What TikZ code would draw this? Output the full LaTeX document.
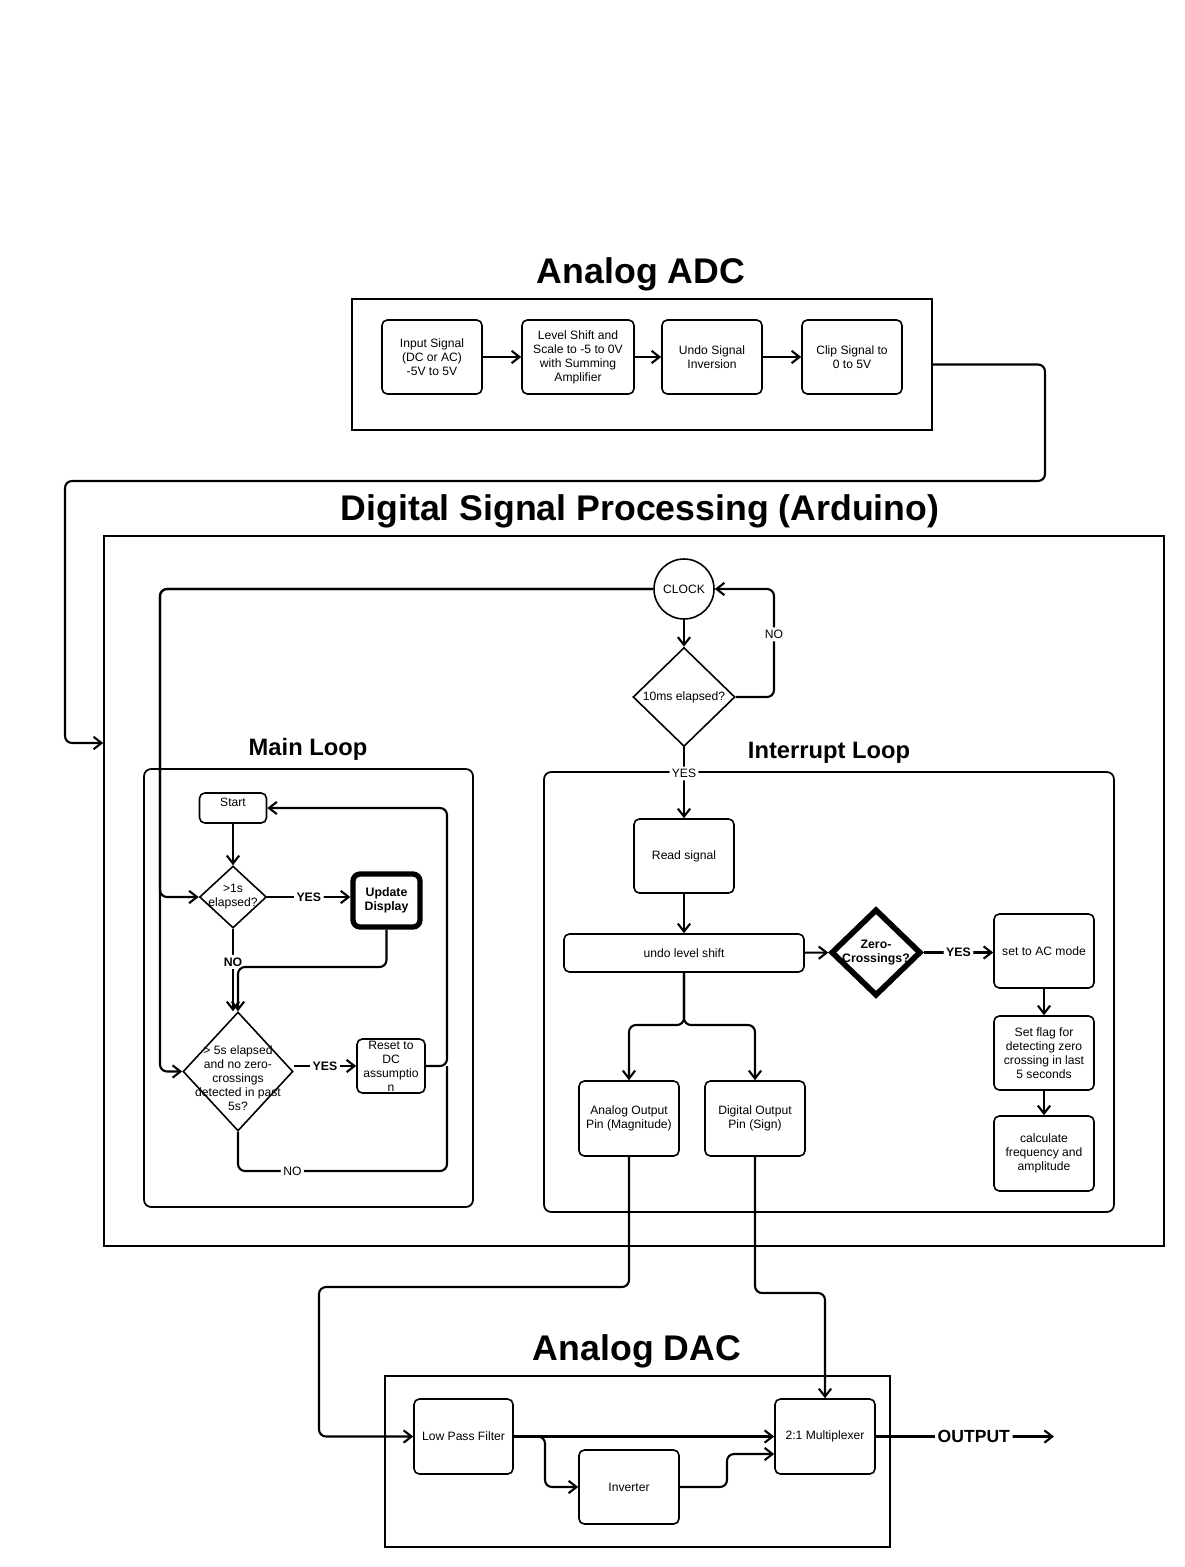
\documentclass[tikz,border=0pt]{standalone}
\usepackage{fontspec}
\setmainfont{Liberation Sans}
\usetikzlibrary{shapes.geometric,arrows.meta}

\begin{document}
\begin{tikzpicture}[x=0.02cm, y=-0.02cm,
  box/.style={draw, rounded corners=3pt, line width=0.9pt, align=center, inner sep=0pt, font=\fontsize{6.9}{8}\selectfont},
  frame/.style={draw, line width=1pt, inner sep=0pt},
  dia/.style={draw, diamond, line width=0.9pt, inner sep=0pt},
  txt/.style={align=center, inner sep=0pt, font=\fontsize{6.9}{8}\selectfont},
  lbl/.style={fill=white, inner sep=1.5pt, font=\fontsize{6.9}{8}\selectfont},
  blbl/.style={fill=white, inner sep=1.5pt, font=\fontsize{7}{8}\selectfont\bfseries},
  title/.style={font=\fontsize{20.3}{24}\selectfont\bfseries},
  subtitle/.style={font=\fontsize{13.5}{16}\selectfont\bfseries},
  conn/.style={line width=1.2pt, rounded corners=4pt},
  arr/.style={conn, -{Straight Barb[length=4.5pt,width=7pt]}}]
  \useasboundingbox (0,0) rectangle (1184,1567);

  % Analog ADC
  \node[title] (tadc) at (641,274) {Analog ADC};
  \node[frame, minimum width=11.6cm, minimum height=2.62cm] (adc) at (642,364.5) {};
  \node[box, minimum width=2cm, minimum height=1.48cm] (in1) at (432,357) {Input Signal\\(DC or AC)\\-5V to 5V};
  \node[box, minimum width=2.24cm, minimum height=1.48cm] (in2) at (578,357) {Level Shift and\\Scale to -5 to 0V\\with Summing\\Amplifier};
  \node[box, minimum width=2cm, minimum height=1.48cm] (in3) at (712,357) {Undo Signal\\Inversion};
  \node[box, minimum width=2cm, minimum height=1.48cm] (in4) at (852,357) {Clip Signal to\\0 to 5V};

  \draw[arr] (in1) -- (in2);
  \draw[arr] (in2) -- (in3);
  \draw[arr] (in3) -- (in4);

  % Digital Signal Processing
  \node[title] (tdsp) at (640,511) {Digital Signal Processing (Arduino)};
  \node[frame, minimum width=21.2cm, minimum height=14.2cm] (dsp) at (634,891) {};
  \draw[arr] (adc.east) -- (1045,364.5) -- (1045,481) -- (65,481) -- (65,743) -- (dsp.west |- 0,743);

  \node[draw, circle, line width=0.9pt, minimum size=1.2cm, inner sep=0pt, font=\fontsize{6.9}{8}\selectfont] (clk) at (684,589) {CLOCK};
  \node[dia, minimum width=2.04cm, minimum height=1.98cm] (d10) at (684,697) {};
  \node[txt] (d10t) at (d10) {10ms elapsed?};

  \node[subtitle] (tmain) at (308,749) {Main Loop};
  \node[frame, rounded corners=4pt, minimum width=6.58cm, minimum height=8.76cm] (mainf) at (308.5,988) {};
  \node[subtitle] (tint) at (829,753) {Interrupt Loop};
  \node[frame, rounded corners=4pt, minimum width=11.4cm, minimum height=8.8cm] (intf) at (829,992) {};

  \draw[arr] (clk) -- (d10);
  \draw[arr] (d10.east) -- (774,697) -- node[lbl, pos=.58] (no1) {NO} (774,589) -- (clk.east);

  % main loop
  \node[box, minimum width=1.34cm, minimum height=0.6cm] (st) at (233,808) {};
  \node[txt] (stt) at (233,802) {Start};
  \node[dia, minimum width=1.34cm, minimum height=1.24cm] (d1) at (233,897) {};
  \node[txt] (d1t) at (d1) {>1s\\elapsed?};
  \node[box, line width=3pt, rounded corners=4pt, minimum width=1.34cm, minimum height=1.06cm, font=\fontsize{7}{8}\selectfont\bfseries] (upd) at (386.5,900.5) {Update\\Display};
  \node[dia, minimum width=2.2cm, minimum height=2.38cm] (d2) at (238,1071.5) {};
  \node[txt] (d2t) at (238,1078) {> 5s elapsed\\and no zero-\\crossings\\detected in past\\5s?};
  \node[box, minimum width=1.36cm, minimum height=1.08cm] (rst) at (391,1066) {Reset to\\DC\\assumptio\\n};

  \draw[arr] (clk.west) -- (160,589) -- (160,897) -- (d1.west);
  \draw[arr] (clk.west) -- (160,589) -- (160,1071.5) -- (d2.west);
  \draw[arr] (st) -- (d1);
  \draw[arr] (d1.east) -- node[blbl] (y1) {YES} (d1.east -| upd.west);
  \draw[arr] (d1.south) -- node[blbl, pos=.4] (n1) {NO} (d1.south |- d2.north);
  \draw[arr] (upd.south) -- (386.5,967) -- (238,967) -- (d2.north);
  \draw[arr] (d2.east |- rst.west) -- node[blbl] (y2) {YES} (rst.west);
  \draw[arr] (rst.east) -- (447,1066) -- (447,808) -- (st.east);
  \draw[conn] (d2.south) -- (238,1171) -- node[lbl, pos=.26] (n2) {NO} (447,1171) -- (447,1066);

  % interrupt loop
  \node[box, minimum width=2cm, minimum height=1.48cm] (rd) at (684,856) {Read signal};
  \node[box, minimum width=4.8cm, minimum height=0.76cm] (und) at (684,953) {undo level shift};
  \node[dia, line width=3.2pt, minimum width=1.8cm, minimum height=1.74cm] (zc) at (876,952.5) {};
  \node[txt, font=\fontsize{7}{8}\selectfont\bfseries] (zct) at (zc) {Zero-\\Crossings?};
  \node[box, minimum width=2cm, minimum height=1.48cm] (ac) at (1044,951) {set to AC mode};
  \node[box, minimum width=2cm, minimum height=1.48cm] (flg) at (1044,1053) {Set flag for\\detecting zero\\crossing in last\\5 seconds};
  \node[box, minimum width=2cm, minimum height=1.5cm] (calc) at (1044,1153.5) {calculate\\frequency and\\amplitude};
  \node[box, minimum width=2cm, minimum height=1.5cm] (aout) at (629,1118.5) {Analog Output\\Pin (Magnitude)};
  \node[box, minimum width=2cm, minimum height=1.5cm] (dout) at (755,1118.5) {Digital Output\\Pin (Sign)};

  \draw[arr] (d10.south) -- node[lbl, pos=.37] (y0) {YES} (rd.north);
  \draw[arr] (rd) -- (und);
  \draw[arr] (und) -- (zc);
  \draw[arr] (zc.east) -- node[blbl] (y3) {YES} (zc.east -| ac.west);
  \draw[arr] (ac) -- (flg);
  \draw[arr] (flg) -- (calc);
  \draw[arr] (und.south) -- (684,1025) -- (629,1025) -- (aout.north);
  \draw[arr] (und.south) -- (684,1025) -- (755,1025) -- (dout.north);

  % Analog DAC
  \node[title] (tdac) at (637,1351) {Analog DAC};
  \node[frame, minimum width=10.1cm, minimum height=3.42cm] (dac) at (637.5,1461.5) {};
  \node[box, minimum width=1.98cm, minimum height=1.5cm] (lpf) at (463.5,1436.5) {Low Pass Filter};
  \node[box, minimum width=2cm, minimum height=1.48cm] (inv) at (629,1487) {Inverter};
  \node[box, minimum width=2cm, minimum height=1.5cm] (mux) at (825,1436.5) {2:1 Multiplexer};
  \coordinate (out) at (1054,1436.5);

  \draw[arr] (aout.south) -- (629,1287) -- (319,1287) -- (319,1436.5) -- (lpf.west);
  \draw[arr] (dout.south) -- (755,1293) -- (825,1293) -- (mux.north);
  \draw[arr] (lpf) -- (mux);
  \draw[arr] (lpf.east) -- (545,1436.5) -- (545,1487) -- (inv.west);
  \draw[arr] (inv.east) -- (727,1487) -- (727,1454) -- (mux.west |- 0,1454);
  \draw[arr] (mux) -- node[fill=white, inner sep=1.5pt, font=\fontsize{10}{12}\selectfont\bfseries, pos=.55] (tout) {OUTPUT} (out);
\end{tikzpicture}
\end{document}
